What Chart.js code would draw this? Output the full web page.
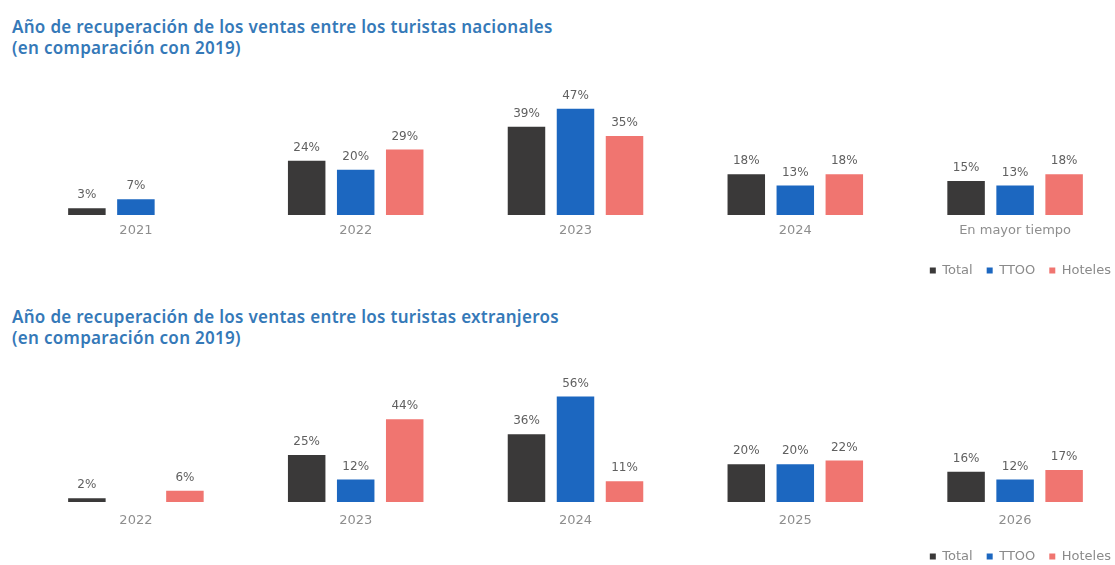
<!DOCTYPE html>
<html>
<head>
<meta charset="utf-8">
<script src="https://cdn.jsdelivr.net/npm/chart.js@4.4.0/dist/chart.umd.min.js"></script>
<style>
  body { margin: 0; width: 1115px; height: 565px; overflow: hidden; background: #fff; position: relative; }
  .title { position: absolute; left: 12px; color: #3579b8; font-family: "Noto Sans", sans-serif; font-weight: 600; font-size: 17px; line-height: 21px; letter-spacing: 0.3px; }
  .box { position: absolute; left: 0; width: 1125px; }
</style>
</head>
<body>
<div class="title" style="top:16px">Año de recuperación de los ventas entre los turistas nacionales<br>(en comparación con 2019)</div>
<div class="box" style="top:69px;height:218px"><canvas id="chartNac"></canvas></div>

<div class="title" style="top:306px">Año de recuperación de los ventas entre los turistas extranjeros<br>(en comparación con 2019)</div>
<div class="box" style="top:357px;height:216px"><canvas id="chartExt"></canvas></div>

<script>
//Series names and colours
const seriesNames = ["Total", "TTOO", "Hoteles"];
const seriesColors = ["#3a3939", "#1c67c0", "#f07570"];

//Tourists from Spain
const nacLabels = ["2021", "2022", "2023", "2024", "En mayor tiempo"];
const nacTotal = [3, 24, 39, 18, 15];
const nacTTOO = [7, 20, 47, 13, 13];
const nacHoteles = [null, 29, 35, 18, 18];

//Foreign tourists
const extLabels = ["2022", "2023", "2024", "2025", "2026"];
const extTotal = [2, 25, 36, 20, 16];
const extTTOO = [null, 12, 56, 20, 12];
const extHoteles = [6, 44, 11, 22, 17];

const fontName = "'DejaVu Sans', sans-serif";

//Draws the % value on top of every bar
const valueLabels = {
  id: "valueLabels",
  afterDatasetsDraw(chart) {
    const ctx = chart.ctx;
    ctx.save();
    ctx.font = "12px " + fontName;
    ctx.fillStyle = "#606060";
    ctx.textAlign = "center";
    ctx.textBaseline = "middle";
    chart.data.datasets.forEach((ds, i) => {
      const meta = chart.getDatasetMeta(i);
      meta.data.forEach((bar, j) => {
        if (ds.data[j] === null) return;
        ctx.fillText(ds.data[j] + "%", bar.x, bar.y - 13);
      });
    });
    ctx.restore();
  },
};

function makeChart(id, labels, series, yMax, padTop, axisHeight, tickPad) {
  return new Chart(document.getElementById(id), {
    type: "bar",
    data: {
      labels: labels,
      datasets: series.map((data, i) => ({
        label: seriesNames[i],
        data: data,
        backgroundColor: seriesColors[i],
        categoryPercentage: 0.669,
        barPercentage: 0.765,
      })),
    },
    options: {
      responsive: true,
      maintainAspectRatio: false,
      animation: false,
      layout: { padding: { top: padTop, left: 26, right: 0, bottom: 0 } },
      plugins: {
        tooltip: { enabled: false },
        legend: {
          position: "bottom",
          align: "end",
          labels: {
            boxWidth: 6,
            boxHeight: 6,
            padding: 14,
            color: "#8a8a8a",
            font: { family: fontName, size: 13 },
          },
        },
      },
      scales: {
        x: {
          grid: { display: false, drawTicks: false },
          border: { display: false },
          ticks: {
            padding: tickPad,
            color: "#8e8e8e",
            font: { family: fontName, size: 13 },
          },
          afterFit(scale) {
            scale.height = axisHeight;
          },
        },
        y: {
          display: false,
          min: 0,
          max: yMax,
        },
      },
    },
    plugins: [valueLabels],
  });
}

makeChart("chartNac", nacLabels, [nacTotal, nacTTOO, nacHoteles], 50, 33, 35, 8);
makeChart("chartExt", extLabels, [extTotal, extTTOO, extHoteles], 60, 32, 34, 11);
</script>
</body>
</html>
